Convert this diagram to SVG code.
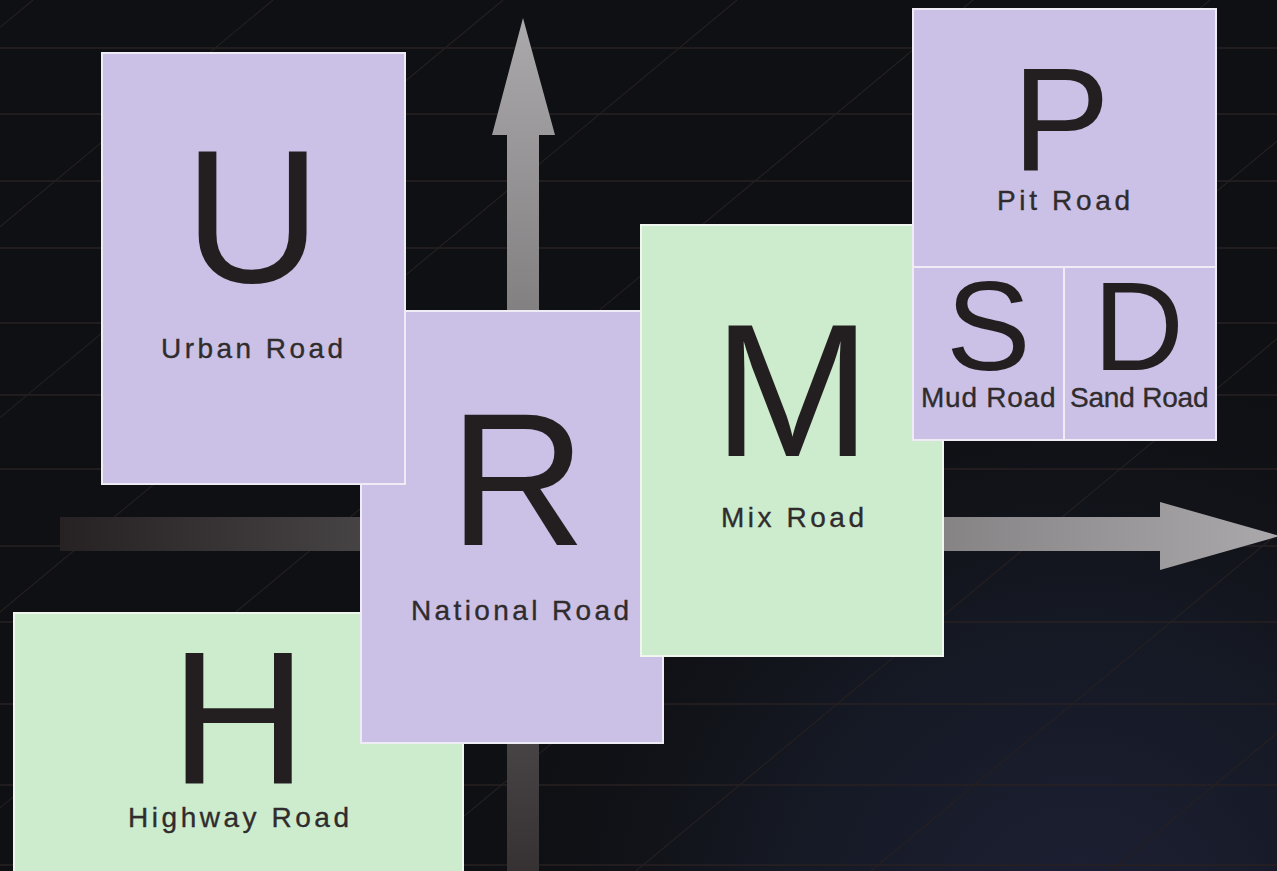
<svg xmlns="http://www.w3.org/2000/svg" width="1277" height="871" viewBox="0 0 1277 871">
<style>
.grid{stroke:#282122;stroke-width:1.3;fill:none}
.diag{stroke:#262021;stroke-width:1.1;fill:none}
.lav{fill:#cbc1e6;stroke:#efecf6;stroke-width:2}
.grn{fill:#cdeccd;stroke:#eef6ee;stroke-width:2}
.big{font-family:"Liberation Sans",Arial,sans-serif;fill:#231f20}
.lbl{font-family:"Liberation Sans",Arial,sans-serif;font-size:28px;fill:#302c2d;stroke:#302c2d;stroke-width:0.35}
</style>
<defs>
<radialGradient id="glow" cx="1080" cy="930" r="620" gradientUnits="userSpaceOnUse">
<stop offset="0" stop-color="#1c2034"/>
<stop offset="0.5" stop-color="#151924"/>
<stop offset="1" stop-color="#0f1013" stop-opacity="0"/>
</radialGradient>
<linearGradient id="hgrad" x1="60" y1="0" x2="1277" y2="0" gradientUnits="userSpaceOnUse">
<stop offset="0" stop-color="#262223"/>
<stop offset="1" stop-color="#aaa8aa"/>
</linearGradient>
<linearGradient id="vgrad" x1="0" y1="871" x2="0" y2="18" gradientUnits="userSpaceOnUse">
<stop offset="0" stop-color="#363233"/>
<stop offset="1" stop-color="#aba9ab"/>
</linearGradient>
</defs>
<rect width="1277" height="871" fill="#0f1013"/>
<rect width="1277" height="871" fill="url(#glow)"/>
<g id="background-grid">
<path class="grid" d="M0 48H1277M0 114H1277M0 181H1277M0 248H1277M0 323H1277M0 395H1277M0 469H1277M0 546H1277M0 622H1277M0 704H1277M0 785H1277M0 865H1277"/>
<path class="diag" d="M33 0L-1016 871M273 0L-776 871M503 0L-546 871M737 0L-312 871M973 0L-76 871M1210 0L161 871M1447 0L398 871M1685 0L636 871M1920 0L871 871M2160 0L1111 871"/>
</g>
<g id="connectors">
<polygon fill="url(#hgrad)" points="60,517 1160,517 1160,502 1280,536 1160,570 1160,551 60,551"/>
<polygon fill="url(#vgrad)" points="507,871 507,135 492,135 523,18 555,135 539,135 539,871"/>
</g>
<g id="node-H">
<rect class="grn" x="14" y="613" width="449" height="270"/>
<text class="big" x="170" y="783" font-size="190">H</text>
<text class="lbl" x="128" y="827" textLength="221">Highway Road</text>
</g>
<g id="node-R">
<rect class="lav" x="361" y="311" width="302" height="432"/>
<text class="big" x="449" y="545" font-size="190">R</text>
<text class="lbl" x="411" y="620" textLength="218">National Road</text>
</g>
<g id="node-U">
<rect class="lav" x="102" y="53" width="303" height="431"/>
<text class="big" x="184" y="282" font-size="190">U</text>
<text class="lbl" x="161" y="358" textLength="182">Urban Road</text>
</g>
<g id="node-M">
<rect class="grn" x="641" y="225" width="302" height="431"/>
<text class="big" x="713" y="456" font-size="190">M</text>
<text class="lbl" x="721" y="527" textLength="143">Mix Road</text>
</g>
<g id="node-P">
<rect class="lav" x="913" y="9" width="303" height="258"/>
<text class="big" x="1012" y="170" font-size="147">P</text>
<text class="lbl" x="997" y="210" textLength="133">Pit Road</text>
</g>
<g id="node-S">
<rect class="lav" x="913" y="267" width="151" height="173"/>
<text class="big" x="946" y="370" font-size="127">S</text>
<text class="lbl" x="921" y="407" textLength="134" style="letter-spacing:-0.5px">Mud Road</text>
</g>
<g id="node-D">
<rect class="lav" x="1064" y="267" width="152" height="173"/>
<text class="big" x="1093" y="370" font-size="126">D</text>
<text class="lbl" x="1070" y="407" textLength="138" style="letter-spacing:-0.5px">Sand Road</text>
</g>
</svg>
